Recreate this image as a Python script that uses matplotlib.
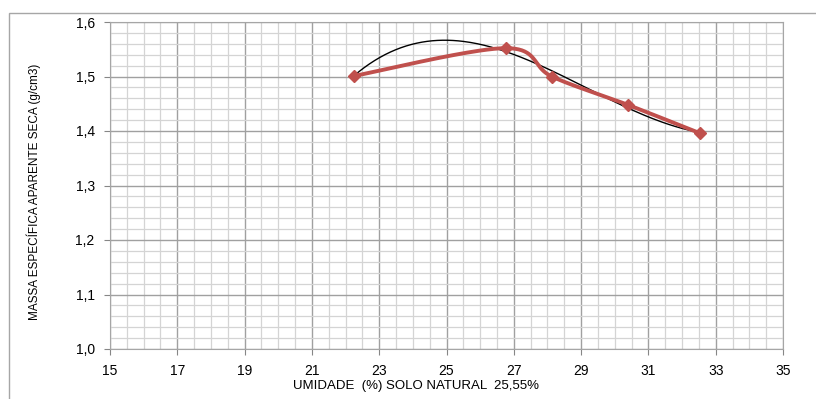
import numpy as np
import matplotlib.pyplot as plt
from matplotlib.patches import Rectangle
from matplotlib.ticker import MultipleLocator, FixedLocator, FuncFormatter

plt.rcParams['font.family'] = ['Liberation Sans', 'DejaVu Sans']

# ensaio de compactacao
umidade = [22.25, 26.77, 28.13, 30.39, 32.53]
massa_esp = [1.501, 1.552, 1.500, 1.448, 1.396]
x_ticks = [15, 17, 19, 21, 23, 25, 27, 29, 31, 33, 35]


def smooth_curve(x, y, n=40):
    # curva suavizada tipo Excel (Bezier com tangentes de Catmull-Rom)
    x = np.asarray(x, float)
    y = np.asarray(y, float)
    px, py = [], []
    for i in range(len(x) - 1):
        x0, y0 = (x[i - 1], y[i - 1]) if i > 0 else (x[i], y[i])
        x3, y3 = (x[i + 2], y[i + 2]) if i + 2 < len(x) else (x[i + 1], y[i + 1])
        c1x = x[i] + (x[i + 1] - x0) / 6
        c1y = y[i] + (y[i + 1] - y0) / 6
        c2x = x[i + 1] - (x3 - x[i]) / 6
        c2y = y[i + 1] - (y3 - y[i]) / 6
        t = np.linspace(0, 1, n)
        px += list((1 - t) ** 3 * x[i] + 3 * (1 - t) ** 2 * t * c1x + 3 * (1 - t) * t ** 2 * c2x + t ** 3 * x[i + 1])
        py += list((1 - t) ** 3 * y[i] + 3 * (1 - t) ** 2 * t * c1y + 3 * (1 - t) * t ** 2 * c2y + t ** 3 * y[i + 1])
    return px, py


fig = plt.figure(figsize=(8.16, 3.99), dpi=100)
fig.patches.append(Rectangle((9 / 816, -0.01), 1, 1 - 13 / 399 + 0.01, transform=fig.transFigure,
                             fill=False, edgecolor='#A6A6A6', linewidth=1))

ax = fig.add_axes([110 / 816, 50 / 399, 673 / 816, 327 / 399])

# linha de tendencia polinomial
coef = np.polyfit(umidade, massa_esp, 3)
xt = np.linspace(umidade[0], umidade[-1], 200)
ax.plot(xt, np.polyval(coef, xt), color='black', linewidth=1, zorder=3)

sx, sy = smooth_curve(umidade, massa_esp)
ax.plot(sx, sy, color='#C0504D', linewidth=2.8, zorder=4)
ax.plot(umidade, massa_esp, linestyle='none', marker='D', markersize=6,
        color='#C0504D', zorder=5)

ax.set_xlim(15, 35)
ax.set_ylim(1.0, 1.6)
ax.xaxis.set_major_locator(FixedLocator(x_ticks))
ax.xaxis.set_minor_locator(MultipleLocator(0.5))
ax.yaxis.set_major_locator(MultipleLocator(0.1))
ax.yaxis.set_minor_locator(MultipleLocator(0.02))
ax.yaxis.set_major_formatter(FuncFormatter(lambda v, p: f'{v:.1f}'.replace('.', ',')))

ax.grid(which='major', color='#A0A0A0', linewidth=1)
ax.grid(which='minor', color='#D4D4D4', linewidth=0.9)
ax.set_axisbelow(True)

for s in ax.spines.values():
    s.set_color('#A6A6A6')
ax.tick_params(which='major', length=4, color='#868686', labelsize=10, pad=7)
ax.tick_params(which='minor', length=0)

ax.set_xlabel('UMIDADE  (%) SOLO NATURAL  25,55%', fontsize=9.5)
ax.xaxis.set_label_coords(0.455, -0.095)
ax.set_ylabel('MASSA ESPECÍFICA APARENTE SECA (g/cm3)', fontsize=8.5)
ax.yaxis.set_label_coords(-0.102, 0.48)

fig.savefig('out.png', dpi=100)
